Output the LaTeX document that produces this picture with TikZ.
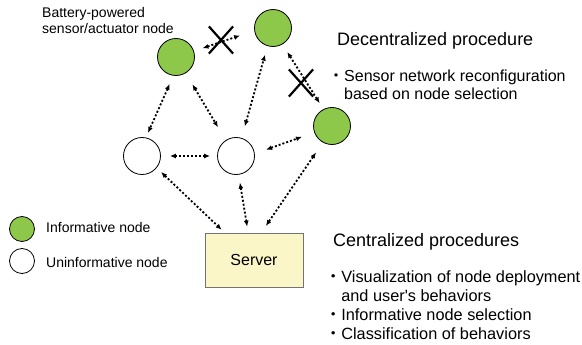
\documentclass[tikz,border=0pt]{standalone}
\usepackage{fontspec}
\setmainfont{Liberation Sans}
\newfontfamily\cjk{Noto Sans CJK JP}
\usetikzlibrary{arrows.meta,shapes.misc}
\definecolor{leafgreen}{RGB}{141,200,75}
\definecolor{serveryellow}{RGB}{250,246,200}
\newcommand\bul{\makebox[0.5em][r]{\cjk ・}}
\tikzset{sensor/.style={circle,draw,line width=0.8pt,minimum size=37pt,inner sep=0pt},
  informative/.style={sensor,fill=leafgreen},
  link/.style={<->,>={Latex[length=6pt,width=5pt]},line width=1.8pt,dash pattern=on 2pt off 2pt},
  blocked/.style={cross out,draw,line width=2.2pt,minimum width=22pt,minimum height=25pt,inner sep=0pt},
  caption/.style={anchor=base west,inner sep=0pt,align=left}}

\begin{document}
\begin{tikzpicture}[x=1pt,y=-1pt]
      \useasboundingbox (0,0) rectangle (582,345);

      \node[informative] (g1) at (176,57) {};
      \node[informative] (g2) at (273,28) {};
      \node[informative] (g3) at (332,126) {};
      \node[sensor] (w1) at (142,156) {};
      \node[sensor] (w2) at (236,156) {};
      \node[draw=black!55,line width=0.9pt,fill=serveryellow,minimum width=98pt,minimum height=54pt,
        font=\fontsize{16}{19}\selectfont] (server) at (254,260) {Server};

      \node[blocked] (x1) at (221,40) {};
      \node[blocked] (x2) at (301,83) {};

      \draw[link,shorten <=9pt,shorten >=5pt] (g1.-98) -- (w1.78);
      \draw[link,shorten <=13pt,shorten >=15pt] (g1.-59) -- (w2.123);
      \draw[link,shorten <=12pt,shorten >=9pt] (w2.73) -- (g2.-107);
      \draw[link,shorten <=9pt,shorten >=7pt] (w1.east) -- (w2.west);
      \draw[link,shorten <=9pt,shorten >=15pt] (g1.18) -- (g2.-172);
      \draw[link,shorten <=9pt,shorten >=7pt] (g2.-60) -- (g3.117);
      \draw[link,shorten <=12pt,shorten >=13pt] (w2.7) -- (g3.-160);
      \draw[link,shorten <=6pt,shorten >=4pt] (w1.-39) -- (server.137);
      \draw[link,shorten <=8pt,shorten >=6pt] (w2.-82) -- (server.102);
      \draw[link,shorten <=12pt,shorten >=8pt] (g3.-119) -- (server.75);

      % multi-line captions sit on the baseline of their last line
      \node[caption,font=\fontsize{14}{16}\selectfont] (battery) at (42,34)
        {Battery-powered\\sensor/actuator node};

      \node[informative,minimum size=25pt] (keyg) at (22,229) {};
      \node[sensor,minimum size=25pt] (keyw) at (22,261) {};
      \node[caption,font=\fontsize{14}{16}\selectfont] (keygtext) at (46,233) {Informative node};
      \node[caption,font=\fontsize{14}{16}\selectfont] (keywtext) at (46,267) {Uninformative node};

      \node[caption,font=\fontsize{18}{21}\selectfont] (dtitle) at (337,46) {Decentralized procedure};
      \node[caption,font=\fontsize{16}{19}\selectfont] (dsteps) at (336,100)
        {\bul Sensor network reconfiguration\\\hphantom{\bul}based on node selection};

      \node[caption,font=\fontsize{18}{21}\selectfont] (ctitle) at (333,246) {Centralized procedures};
      \node[caption,font=\fontsize{16.3}{19}\selectfont] (csteps) at (333,339)
        {\bul Visualization of node deployment\\\hphantom{\bul}and user\textquotesingle s behaviors\\
         \bul Informative node selection\\\bul Classification of behaviors};
\end{tikzpicture}
\end{document}
